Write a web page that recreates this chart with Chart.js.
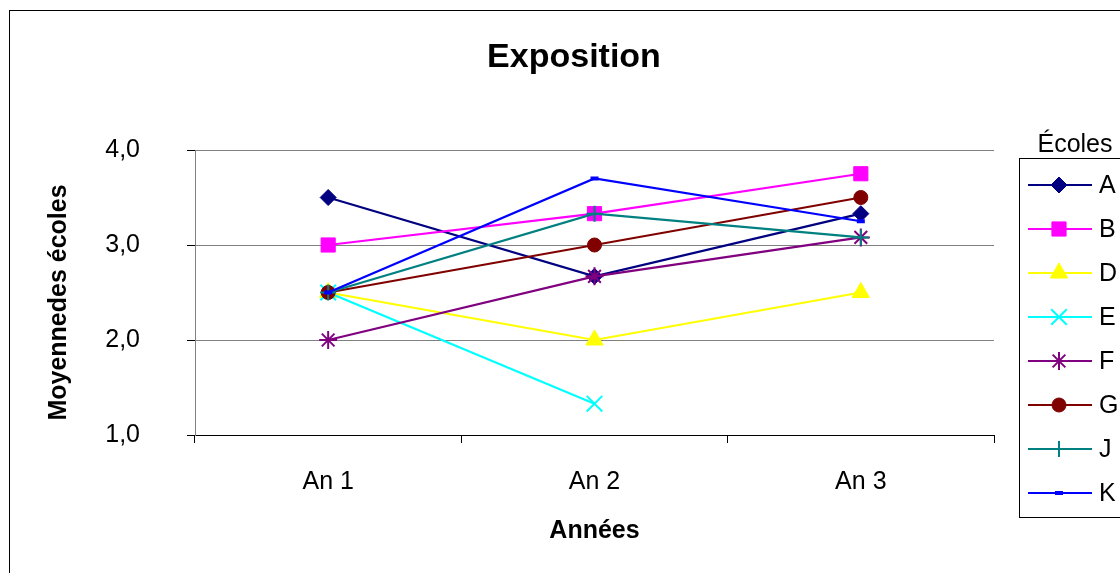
<!DOCTYPE html>
<html>
<head>
<meta charset="utf-8">
<script src="https://cdn.jsdelivr.net/npm/chart.js@4/dist/chart.umd.min.js"></script>
<style>
  html, body { margin: 0; padding: 0; background: #fff; }
  #wrap { width: 1120px; height: 573px; position: relative; }
</style>
</head>
<body>
<div id="wrap"><canvas id="c" width="1120" height="573"></canvas></div>
<script>
// Years on the horizontal axis
const categories = ['An 1', 'An 2', 'An 3'];
// Y tick values (labels use a decimal comma)
const yTicks = [1, 2, 3, 4];

// Average score per school and year
const schoolA = [3.5, 2.67, 3.33];
const schoolB = [3.0, 3.33, 3.75];
const schoolD = [2.5, 2.0, 2.5];
const schoolE = [2.5, 1.33, null];
const schoolF = [2.0, 2.67, 3.08];
const schoolG = [2.5, 3.0, 3.5];
const schoolJ = [2.5, 3.33, 3.08];
const schoolK = [2.5, 3.7, 3.25];

const FONT = "'Liberation Sans', Arial, sans-serif";

const seriesDefs = [
  { label: 'A', data: schoolA, color: '#000080', style: 'rectRot', r: 8, bw: 1 },
  { label: 'B', data: schoolB, color: '#FF00FF', style: 'rect', r: 10, bw: 1 },
  { label: 'D', data: schoolD, color: '#FFFF00', style: 'triangle', r: 10, bw: 1 },
  { label: 'E', data: schoolE, color: '#00FFFF', style: 'crossRot', r: 11, bw: 2 },
  { label: 'F', data: schoolF, color: '#800080', style: 'star', r: 9, bw: 2 },
  { label: 'G', data: schoolG, color: '#800000', style: 'circle', r: 7, bw: 1 },
  { label: 'J', data: schoolJ, color: '#008080', style: 'cross', r: 8, bw: 2 },
  { label: 'K', data: schoolK, color: '#0000FF', style: 'line', r: 4, bw: 4 }
];

const datasets = seriesDefs.map((s, i) => ({
  label: s.label,
  data: s.data,
  borderColor: s.color,
  backgroundColor: s.color,
  borderWidth: 2.2,
  tension: 0,
  spanGaps: false,
  pointStyle: s.style,
  pointRadius: s.r,
  pointHoverRadius: s.r,
  pointBorderWidth: s.bw,
  pointBackgroundColor: s.color,
  pointBorderColor: s.color,
  order: seriesDefs.length - i
}));

// Frame, titles and the boxed legend on the right
const decorations = {
  id: 'decorations',
  beforeDraw(chart) {
    const ctx = chart.ctx;
    ctx.save();
    ctx.fillStyle = '#fff';
    ctx.fillRect(0, 0, chart.width, chart.height);
    ctx.strokeStyle = '#000';
    ctx.lineWidth = 1;
    ctx.strokeRect(9.5, 10.5, 1300, 1000);
    ctx.restore();
  },
  afterDraw(chart) {
    const ctx = chart.ctx;
    const area = chart.chartArea;
    ctx.save();
    ctx.fillStyle = '#000';

    // Chart title
    ctx.font = 'bold 34px ' + FONT;
    ctx.textAlign = 'center';
    ctx.textBaseline = 'alphabetic';
    ctx.fillText('Exposition', 574, 67);

    // X axis title
    ctx.font = 'bold 25px ' + FONT;
    ctx.fillText('Années', (area.left + area.right) / 2, 538);

    // Y axis title
    ctx.save();
    ctx.translate(59, (area.top + area.bottom) / 2 + 10);
    ctx.rotate(-Math.PI / 2);
    ctx.textBaseline = 'middle';
    ctx.font = 'bold 25px ' + FONT;
    ctx.fillText('Moyennedes écoles', 0, 0);
    ctx.restore();

    // Legend
    ctx.font = '25px ' + FONT;
    ctx.textAlign = 'center';
    ctx.textBaseline = 'middle';
    ctx.fillText('Écoles', 1075, 145);
    ctx.strokeStyle = '#000';
    ctx.lineWidth = 1;
    ctx.strokeRect(1019.5, 158.5, 200, 359);

    const top = 185, step = 44;
    chart.data.datasets.forEach((ds, i) => {
      const y = top + i * step;
      ctx.strokeStyle = ds.borderColor;
      ctx.lineWidth = 2.2;
      ctx.beginPath();
      ctx.moveTo(1028, y);
      ctx.lineTo(1092, y);
      ctx.stroke();
      ctx.fillStyle = ds.pointBackgroundColor;
      ctx.strokeStyle = ds.pointBorderColor;
      ctx.lineWidth = ds.pointBorderWidth;
      Chart.helpers.drawPoint(ctx, {
        pointStyle: ds.pointStyle,
        radius: ds.pointRadius,
        rotation: 0,
        borderWidth: ds.pointBorderWidth
      }, 1059, y);
      ctx.fillStyle = '#000';
      ctx.textAlign = 'left';
      ctx.fillText(ds.label, 1099, y + 1);
    });
    ctx.restore();
  }
};

new Chart(document.getElementById('c'), {
  type: 'line',
  data: { labels: categories, datasets },
  plugins: [decorations],
  options: {
    responsive: false,
    animation: false,
    events: [],
    layout: { padding: { left: 0, top: 150, right: 126, bottom: 0 } },
    plugins: {
      legend: { display: false },
      title: { display: false },
      tooltip: { enabled: false }
    },
    scales: {
      x: {
        type: 'category',
        offset: true,
        afterFit(scale) { scale.height = 138; },
        grid: {
          offset: true,
          drawOnChartArea: false,
          drawTicks: true,
          tickLength: 8,
          tickColor: '#000',
          color: '#000'
        },
        border: { display: true, color: '#000', width: 1 },
        ticks: {
          color: '#000',
          font: { family: FONT, size: 25 },
          padding: 24,
          maxRotation: 0
        }
      },
      y: {
        min: 1,
        max: 4,
        afterFit(scale) { scale.width = 195; },
        afterBuildTicks(scale) { scale.ticks = yTicks.map(v => ({ value: v })); },
        grid: {
          color: '#808080',
          lineWidth: 1,
          tickLength: 8,
          tickColor: '#000',
          drawTicks: true
        },
        border: { display: true, color: '#808080', width: 1 },
        ticks: {
          color: '#000',
          font: { family: FONT, size: 25 },
          padding: 47,
          callback: v => v.toFixed(1).replace('.', ',')
        }
      }
    }
  }
});
</script>
</body>
</html>
